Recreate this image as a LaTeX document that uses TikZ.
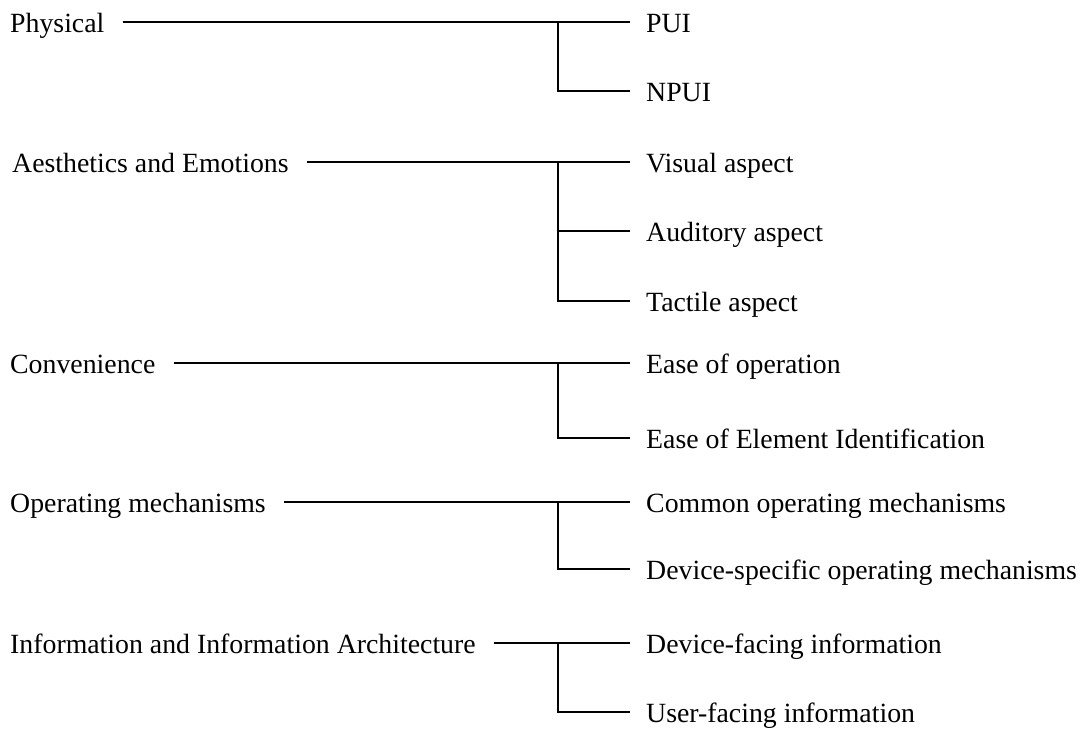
\documentclass[tikz,border=0pt]{standalone}
\usepackage{fontspec}
\setmainfont{Liberation Serif}
\usepackage{tikz}

\tikzset{
  lbl/.style={anchor=base west, inner sep=0pt, font=\fontsize{27.8}{33}\selectfont},
  mainline/.style={line width=2.4pt},
  branchline/.style={line width=1.6pt}
}

\begin{document}
\begin{tikzpicture}[x=1pt, y=-1pt]
  \useasboundingbox (0,0) rectangle (1083,729);

  % Physical
  \begin{scope}
    \node[lbl] (phy) at (10,32) {Physical};
    \node[lbl] (pui) at (646,32) {PUI};
    \node[lbl] (npui) at (646,101) {NPUI};
    \coordinate (phyhub) at (558,22);
    \coordinate (phylow) at (558,91);
    \draw[mainline] (phy.east |- phyhub) ++(18,0) -- (phyhub);
    \draw[branchline] (phyhub) -- ([xshift=-16]pui.west |- phyhub);
    \draw[branchline] (phyhub) -- (phylow) -- ([xshift=-16]npui.west |- phylow);
  \end{scope}

  % Aesthetics and Emotions
  \begin{scope}
    \node[lbl] (aes) at (12,172) {Aesthetics and Emotions};
    \node[lbl] (vis) at (646,172) {Visual aspect};
    \node[lbl] (aud) at (646,241) {Auditory aspect};
    \node[lbl] (tac) at (646,311) {Tactile aspect};
    \coordinate (aeshub) at (558,162);
    \coordinate (aesmid) at (558,231);
    \coordinate (aeslow) at (558,301);
    \draw[mainline] (aes.east |- aeshub) ++(18,0) -- (aeshub);
    \draw[branchline] (aeshub) -- ([xshift=-16]vis.west |- aeshub);
    \draw[branchline] (aesmid) -- ([xshift=-16]aud.west |- aesmid);
    \draw[branchline] (aeshub) -- (aeslow) -- ([xshift=-16]tac.west |- aeslow);
  \end{scope}

  % Convenience
  \begin{scope}
    \node[lbl] (conv) at (10,373) {Convenience};
    \node[lbl] (easeop) at (646,373) {Ease of operation};
    \node[lbl] (easeid) at (646,448) {Ease of Element Identification};
    \coordinate (convhub) at (558,363);
    \coordinate (convlow) at (558,438);
    \draw[mainline] (conv.east |- convhub) ++(18,0) -- (convhub);
    \draw[branchline] (convhub) -- ([xshift=-16]easeop.west |- convhub);
    \draw[branchline] (convhub) -- (convlow) -- ([xshift=-16]easeid.west |- convlow);
  \end{scope}

  % Operating mechanisms
  \begin{scope}
    \node[lbl] (oper) at (10,512) {Operating mechanisms};
    \node[lbl] (common) at (646,512) {Common operating mechanisms};
    \node[lbl] (devspec) at (646,579) {Device-specific operating mechanisms};
    \coordinate (operhub) at (558,502);
    \coordinate (operlow) at (558,569);
    \draw[mainline] (oper.east |- operhub) ++(18,0) -- (operhub);
    \draw[branchline] (operhub) -- ([xshift=-16]common.west |- operhub);
    \draw[branchline] (operhub) -- (operlow) -- ([xshift=-16]devspec.west |- operlow);
  \end{scope}

  % Information and Information Architecture
  \begin{scope}
    \node[lbl] (info) at (10,653) {Information and Information Architecture};
    \node[lbl] (devface) at (646,653) {Device-facing information};
    \node[lbl] (userface) at (646,722) {User-facing information};
    \coordinate (infohub) at (558,643);
    \coordinate (infolow) at (558,712);
    \draw[mainline] (info.east |- infohub) ++(18,0) -- (infohub);
    \draw[branchline] (infohub) -- ([xshift=-16]devface.west |- infohub);
    \draw[branchline] (infohub) -- (infolow) -- ([xshift=-16]userface.west |- infolow);
  \end{scope}

\end{tikzpicture}
\end{document}
